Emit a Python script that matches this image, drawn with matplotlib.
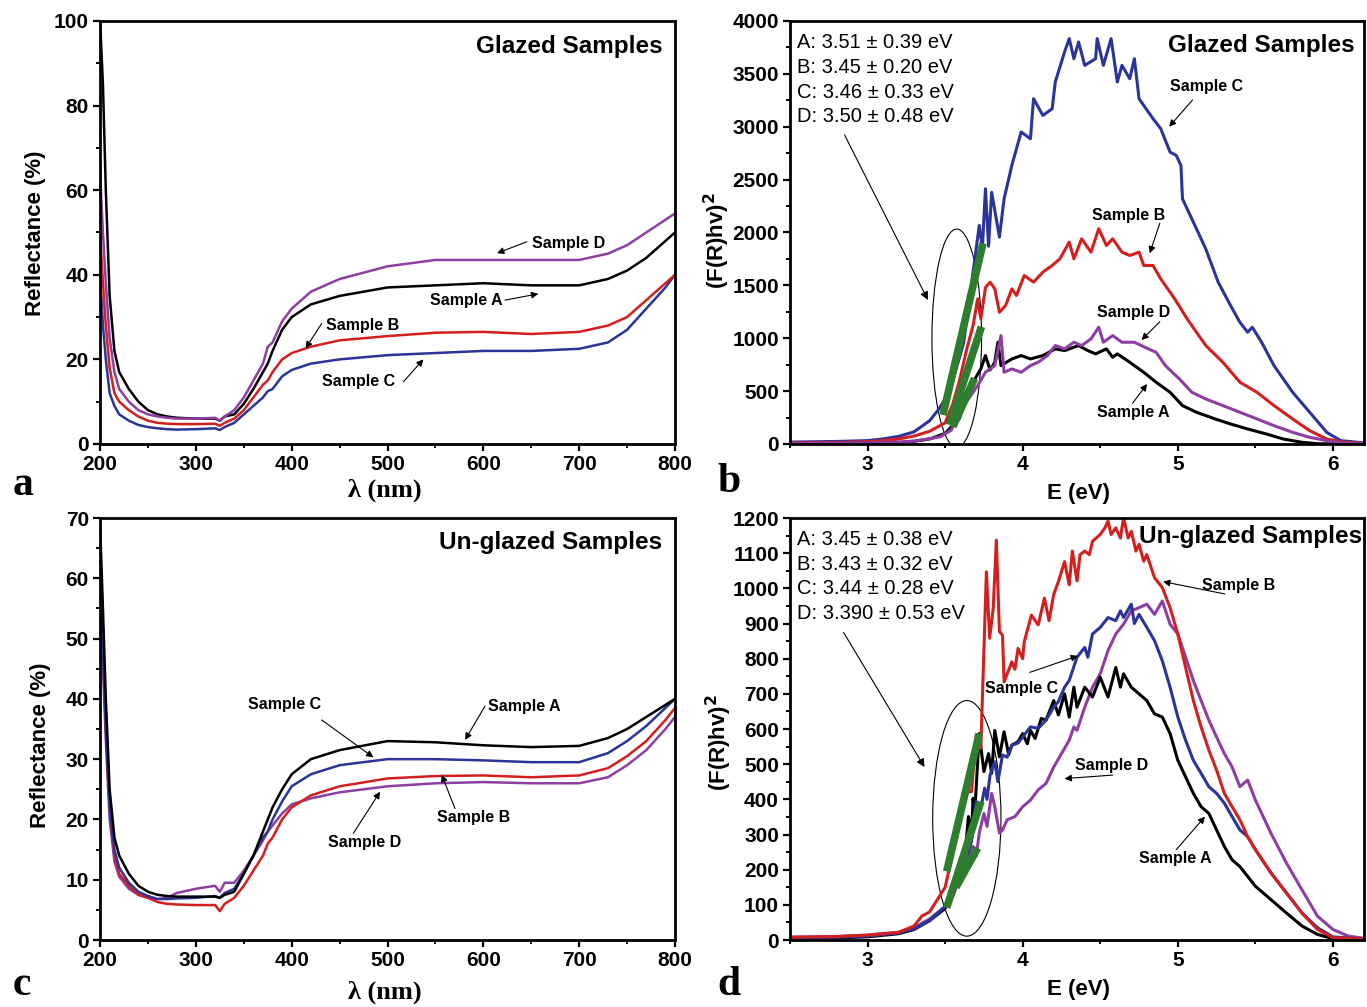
import matplotlib
matplotlib.use("Agg")
import matplotlib.pyplot as plt
from matplotlib.patches import Ellipse
from matplotlib.ticker import MultipleLocator
import numpy as np

# ---------------- data ----------------
# panel a: glazed reflectance
wl = [200, 203, 206, 210, 215, 220, 230, 240, 250, 260, 270, 280, 300, 320, 325, 330,
      340, 350, 360, 370, 375, 380, 390, 400, 420, 450, 500, 550, 600, 650, 700, 730,
      750, 770, 790, 800]
refl_glz_A = [100, 85, 60, 35, 22, 17, 13, 10, 8, 7, 6.5, 6.2, 6, 6, 5.5, 6.5,
              7, 9.5, 13, 17, 19, 22, 27, 30, 33, 35, 37, 37.5, 38, 37.5, 37.5, 39,
              41, 44, 48, 50]
refl_glz_B = [50, 38, 28, 18, 12, 10, 8, 6.5, 5.5, 5, 4.8, 4.7, 4.7, 4.8, 4.3, 5,
              6, 8, 11, 14, 15, 17, 20, 21.5, 23, 24.5, 25.5, 26.3, 26.5, 26, 26.5, 28,
              30, 34, 38, 40]
refl_glz_C = [40, 28, 20, 12, 9, 7, 5.5, 4.5, 4, 3.7, 3.5, 3.4, 3.5, 3.7, 3.3, 4,
              5, 7, 9, 11, 12.5, 13, 16, 17.5, 19, 20, 21, 21.5, 22, 22, 22.5, 24,
              27, 32, 37, 40]
refl_glz_D = [64, 50, 38, 25, 17, 13, 10, 8, 7, 6.5, 6.2, 6, 6, 6.2, 5.5, 6.5,
              8, 11, 15, 19, 23, 24, 29, 32, 36, 39, 42, 43.5, 43.5, 43.5, 43.5, 45,
              47, 50, 53, 54.5]

# panel c: un-glazed reflectance
refl_ung_A = [69, 55, 40, 25, 17, 14, 11, 9, 8, 7.5, 7.3, 7.2, 7.2, 7.2, 7, 7.5,
              8, 11, 14, 18, 20, 22, 25, 27.5, 30, 31.5, 33, 32.8, 32.3, 32, 32.2, 33.5,
              35, 37, 39, 40]
refl_ung_B = [65, 50, 36, 22, 14, 11, 9, 7.5, 7, 6.3, 6, 5.9, 5.8, 5.8, 4.8, 6,
              7, 9, 11.5, 14, 16, 17, 20, 22, 24, 25.5, 26.8, 27.2, 27.3, 27, 27.3, 28.5,
              30.5, 33, 36.5, 38.5]
refl_ung_C = [60, 48, 35, 22, 15, 12, 9.5, 8, 7.3, 6.8, 6.8, 6.9, 7, 7.3, 7, 7.8,
              8.5, 11, 14, 17, 18, 20, 23, 25.5, 27.5, 29, 30, 30, 29.8, 29.5, 29.5, 31,
              33, 35.5, 38.5, 40]
refl_ung_D = [55, 45, 33, 20, 13, 10.5, 8.5, 7.5, 7, 6.8, 7, 7.8, 8.5, 9, 8, 9.5,
              9.5, 11.5, 14, 16.5, 18, 19, 21, 22.5, 23.5, 24.5, 25.5, 26, 26.2, 26, 26, 27,
              29, 31.5, 35, 37]

# panel b: glazed Tauc plot
E_bA = [2.5, 2.8, 3.0, 3.2, 3.3, 3.4, 3.5, 3.59, 3.68, 3.73, 3.76, 3.79, 3.82, 3.84,
        3.86, 3.93, 3.99, 4.05, 4.13, 4.21, 4.27, 4.36, 4.42, 4.47, 4.54, 4.58, 4.61,
        4.69, 4.78, 4.86, 4.95, 5.03, 5.12, 5.24, 5.34, 5.45, 5.57, 5.68, 5.80, 5.91, 6.2]
tauc_bA = [3, 5, 8, 15, 25, 47, 100, 237, 584, 710, 836, 700, 773, 962,
           741, 804, 836, 804, 836, 899, 883, 931, 883, 852, 899, 820, 852,
           773, 678, 584, 489, 363, 300, 237, 189, 142, 95, 47, 16, 2, 0]
E_bB = [2.5, 2.8, 3.0, 3.1, 3.2, 3.3, 3.4, 3.5, 3.55, 3.59, 3.64, 3.68, 3.71, 3.73,
        3.76, 3.79, 3.82, 3.85, 3.89, 3.93, 3.96, 4.01, 4.07, 4.13, 4.19, 4.24, 4.30,
        4.33, 4.38, 4.44, 4.49, 4.54, 4.58, 4.64, 4.69, 4.75, 4.78, 4.84, 4.89, 4.98,
        5.06, 5.18, 5.29, 5.40, 5.51, 5.62, 5.74, 5.85, 5.96, 6.07, 6.2]
tauc_bB = [10, 14, 22, 32, 48, 75, 120, 200, 380, 584, 900, 1120, 1372, 1183,
           1480, 1530, 1467, 1246, 1309, 1467, 1404, 1593, 1530, 1625, 1688, 1751, 1909,
           1751, 1940, 1814, 2035, 1877, 1940, 1814, 1782, 1814, 1688, 1688, 1561, 1372,
           1183, 931, 773, 584, 489, 363, 237, 126, 47, 16, 5]
E_bC = [2.5, 2.8, 3.0, 3.1, 3.2, 3.3, 3.4, 3.46, 3.51, 3.56, 3.62, 3.72, 3.74, 3.76,
        3.78, 3.80, 3.85, 3.88, 3.93, 3.99, 4.05, 4.07, 4.13, 4.19, 4.21, 4.27, 4.30,
        4.33, 4.36, 4.40, 4.47, 4.48, 4.52, 4.57, 4.61, 4.64, 4.69, 4.72, 4.75, 4.84,
        4.89, 4.95, 4.99, 5.02, 5.03, 5.12, 5.18, 5.26, 5.34, 5.40, 5.45, 5.48, 5.54,
        5.62, 5.74, 5.85, 5.96, 6.05, 6.2]
tauc_bC = [18, 24, 32, 48, 72, 115, 220, 330, 450, 650, 962, 2066, 1850, 2413,
           1870, 2380, 1956, 2318, 2634, 2950, 2886, 3265, 3107, 3170, 3423, 3707, 3833,
           3643, 3801, 3580, 3643, 3833, 3580, 3833, 3423, 3580, 3454, 3643, 3265, 3076,
           2981, 2760, 2729, 2634, 2318, 2035, 1845, 1530, 1309, 1151, 1057, 1104, 962,
           741, 489, 300, 110, 32, 10]
E_bD = [2.5, 2.8, 3.0, 3.2, 3.3, 3.4, 3.47, 3.54, 3.59, 3.65, 3.71, 3.76, 3.82, 3.86,
        3.88, 3.93, 3.99, 4.05, 4.10, 4.16, 4.21, 4.27, 4.33, 4.38, 4.44, 4.49, 4.52,
        4.58, 4.64, 4.72, 4.81, 4.86, 4.92, 5.01, 5.09, 5.18, 5.29, 5.40, 5.51, 5.62,
        5.74, 5.85, 5.96, 6.07, 6.2]
tauc_bD = [6, 8, 10, 18, 28, 50, 69, 132, 300, 426, 552, 678, 741, 1025,
           678, 710, 678, 741, 773, 836, 931, 899, 962, 931, 994, 1104, 962,
           1025, 962, 962, 899, 867, 741, 615, 489, 426, 363, 300, 237, 173,
           110, 63, 32, 6, 5]

# panel d: un-glazed Tauc plot
E_dA = [2.5, 2.8, 3.0, 3.2, 3.3, 3.4, 3.5, 3.55, 3.6, 3.63, 3.65, 3.67, 3.68, 3.69,
        3.70, 3.72, 3.75, 3.78, 3.80, 3.82, 3.85, 3.88, 3.91, 3.93, 3.97, 4.0, 4.03,
        4.05, 4.08, 4.12, 4.15, 4.2, 4.23, 4.27, 4.3, 4.33, 4.35, 4.4, 4.45, 4.5,
        4.55, 4.6, 4.63, 4.65, 4.7, 4.75, 4.8, 4.85, 4.9, 4.95, 5.0, 5.05, 5.1,
        5.15, 5.2, 5.25, 5.3, 5.35, 5.4, 5.45, 5.5, 5.6, 5.7, 5.8, 5.9, 6.0, 6.2]
tauc_dA = [4, 6, 9, 18, 30, 55, 90, 130, 200, 250, 351, 300, 403, 355,
           432, 587, 479, 530, 474, 596, 521, 592, 527, 554, 564, 587, 558,
           596, 573, 630, 625, 681, 640, 700, 634, 719, 662, 719, 691, 747,
           691, 775, 719, 757, 719, 700, 681, 643, 634, 587, 511, 464, 417,
           379, 360, 313, 266, 228, 209, 181, 153, 115, 77, 40, 16, 4, 2]
E_dB = [2.5, 2.8, 3.0, 3.2, 3.3, 3.35, 3.4, 3.45, 3.5, 3.55, 3.6, 3.64, 3.67, 3.70,
        3.73, 3.766, 3.787, 3.81, 3.83, 3.85, 3.87, 3.88, 3.93, 3.95, 3.97, 4.0, 4.01,
        4.056, 4.1, 4.14, 4.17, 4.2, 4.23, 4.27, 4.3, 4.32, 4.35, 4.37, 4.4, 4.43,
        4.45, 4.5, 4.53, 4.55, 4.57, 4.6, 4.63, 4.65, 4.68, 4.7, 4.73, 4.75, 4.78,
        4.8, 4.85, 4.9, 4.95, 5.0, 5.05, 5.1, 5.15, 5.2, 5.25, 5.3, 5.35, 5.4,
        5.45, 5.5, 5.6, 5.7, 5.8, 5.9, 6.0, 6.2]
tauc_dB = [8, 10, 14, 22, 40, 68, 80, 115, 150, 250, 360, 420, 422, 583,
           545, 1047, 858, 943, 1137, 877, 867, 734, 791, 770, 829, 800, 848,
           924, 896, 972, 908, 983, 1019, 1076, 1010, 1106, 1021, 1096, 1106, 1096,
           1134, 1153, 1172, 1191, 1153, 1172, 1143, 1200, 1143, 1162, 1106, 1125, 1077,
           1096, 1030, 1002, 945, 870, 775, 681, 606, 540, 483, 417, 379, 342,
           294, 257, 191, 134, 77, 30, 7, 3]
E_dC = [2.5, 2.8, 3.0, 3.2, 3.3, 3.4, 3.5, 3.55, 3.6, 3.65, 3.67, 3.70, 3.73, 3.755,
        3.77, 3.79, 3.82, 3.84, 3.87, 3.9, 3.93, 3.97, 4.01, 4.05, 4.1, 4.15, 4.2,
        4.23, 4.27, 4.3, 4.35, 4.4, 4.42, 4.45, 4.5, 4.55, 4.6, 4.63, 4.65, 4.7,
        4.72, 4.75, 4.8, 4.85, 4.9, 4.95, 5.0, 5.05, 5.1, 5.15, 5.2, 5.25, 5.3,
        5.35, 5.4, 5.45, 5.5, 5.6, 5.7, 5.8, 5.9, 6.0, 6.2]
tauc_dC = [6, 8, 11, 20, 32, 55, 96, 134, 200, 250, 280, 394, 375, 432,
           400, 470, 507, 450, 526, 520, 554, 560, 583, 606, 602, 625, 662,
           678, 719, 738, 804, 832, 804, 870, 889, 917, 908, 936, 917, 955,
           900, 926, 889, 851, 794, 719, 634, 568, 511, 474, 436, 417, 389,
           351, 313, 294, 257, 191, 134, 77, 35, 9, 3]
E_dD = [2.5, 2.8, 3.0, 3.2, 3.3, 3.4, 3.5, 3.55, 3.6, 3.65, 3.68, 3.7, 3.72, 3.75,
        3.77, 3.8, 3.82, 3.85, 3.87, 3.9, 3.95, 4.0, 4.05, 4.1, 4.15, 4.2, 4.25,
        4.3, 4.33, 4.35, 4.4, 4.45, 4.5, 4.55, 4.6, 4.65, 4.7, 4.75, 4.8, 4.85,
        4.9, 4.95, 5.0, 5.05, 5.1, 5.15, 5.2, 5.25, 5.3, 5.35, 5.4, 5.45, 5.5,
        5.55, 5.6, 5.7, 5.8, 5.9, 6.0, 6.1, 6.2]
tauc_dD = [8, 10, 14, 22, 35, 60, 95, 125, 181, 228, 266, 238, 304, 360,
           323, 417, 379, 304, 313, 342, 351, 379, 398, 427, 445, 492, 530,
           568, 606, 596, 662, 719, 757, 823, 870, 898, 936, 945, 955, 926,
           964, 898, 870, 804, 738, 681, 625, 577, 530, 492, 436, 455, 398,
           351, 304, 219, 143, 68, 30, 11, 5]

# linear fits near the absorption edge: (E0, E1, y0, y1)
fits_b = [(3.486, 3.744, 274, 1898), (3.529, 3.734, 180, 1109), (3.55, 3.69, 164, 621)]
fits_d = [(3.51, 3.72, 195, 587), (3.51, 3.73, 92, 393), (3.57, 3.71, 150, 262)]

gaps_b = ["A: 3.51 \u00b1 0.39 eV", "B: 3.45 \u00b1 0.20 eV",
          "C: 3.46 \u00b1 0.33 eV", "D: 3.50 \u00b1 0.48 eV"]
gaps_d = ["A: 3.45 \u00b1 0.38 eV", "B: 3.43 \u00b1 0.32 eV",
          "C: 3.44 \u00b1 0.28 eV", "D: 3.390 \u00b1 0.53 eV"]

# ---------------- style ----------------
col = {'A': '#000000', 'B': '#d41f1f', 'C': '#2b3499', 'D': '#8e3ea3'}
green = '#2f7d2f'
tick_font = ['Liberation Sans Narrow', 'Liberation Sans', 'DejaVu Sans']
sans = ['Liberation Sans', 'DejaVu Sans']
serif = ['Liberation Serif', 'DejaVu Serif']

fig = plt.figure(figsize=(13.67, 10.07), dpi=100)
ax_a = fig.add_axes([0.0732, 0.5591, 0.4206, 0.4201])
ax_b = fig.add_axes([0.5779, 0.5591, 0.4199, 0.4201])
ax_c = fig.add_axes([0.0732, 0.0665, 0.4206, 0.4191])
ax_d = fig.add_axes([0.5779, 0.0665, 0.4199, 0.4191])


def style_axes(ax, xlim, ylim, xmaj, xmin, ymaj, ymin):
    ax.set_xlim(*xlim)
    ax.set_ylim(*ylim)
    ax.xaxis.set_major_locator(MultipleLocator(xmaj))
    ax.xaxis.set_minor_locator(MultipleLocator(xmin))
    ax.yaxis.set_major_locator(MultipleLocator(ymaj))
    ax.yaxis.set_minor_locator(MultipleLocator(ymin))
    for s in ax.spines.values():
        s.set_linewidth(2)
    ax.tick_params(which='major', direction='out', length=5, width=1.6, pad=3)
    ax.tick_params(which='minor', direction='out', length=3, width=1.4)
    for lab in ax.get_xticklabels() + ax.get_yticklabels():
        lab.set_family(tick_font)
        lab.set_fontweight('bold')
        lab.set_fontsize(15)


def sample_label(ax, txt, tx, ty, start, end):
    ax.text(tx, ty, txt, fontsize=11.5, fontweight='bold', family=sans,
            ha='left', va='center')
    ax.annotate('', xy=end, xytext=start,
                arrowprops=dict(arrowstyle='-|>', lw=0.8, color='k',
                                mutation_scale=10, shrinkA=0, shrinkB=0))


# ---- panel a ----
ax = ax_a
ax.plot(wl, refl_glz_C, color=col['C'], lw=1.8)
ax.plot(wl, refl_glz_B, color=col['B'], lw=1.8)
ax.plot(wl, refl_glz_A, color=col['A'], lw=1.8)
ax.plot(wl, refl_glz_D, color=col['D'], lw=1.8)
style_axes(ax, (200, 800), (0, 100), 100, 50, 20, 10)
sample_label(ax, 'Sample D', 650.8, 47.5, (645.3, 47.8), (614.3, 45.1))
sample_label(ax, 'Sample A', 544.3, 34.0, (622.6, 34.0), (657.3, 35.5))
sample_label(ax, 'Sample B', 435.8, 28.1, (431.3, 28.5), (414.5, 22.6))
sample_label(ax, 'Sample C', 431.7, 14.7, (516.5, 14.7), (537.4, 20.0))
ax.text(0.979, 0.9385, 'Glazed Samples', transform=ax.transAxes, ha='right',
        va='center', fontsize=17.5, fontweight='bold', family=sans)
ax.text(-0.113, 0.499, 'Reflectance (%)', transform=ax.transAxes, rotation=90,
        ha='center', va='center', fontsize=16, fontweight='bold', family=sans)
ax.text(0.496, -0.109, '\u03bb (nm)', transform=ax.transAxes, ha='center',
        va='center', fontsize=19, fontweight='bold', family=serif)

# ---- panel c ----
ax = ax_c
ax.plot(wl, refl_ung_D, color=col['D'], lw=1.8)
ax.plot(wl, refl_ung_B, color=col['B'], lw=1.8)
ax.plot(wl, refl_ung_C, color=col['C'], lw=1.8)
ax.plot(wl, refl_ung_A, color=col['A'], lw=1.8)
style_axes(ax, (200, 800), (0, 70), 100, 50, 10, 5)
sample_label(ax, 'Sample C', 354.4, 39.0, (431.3, 36.5), (485.2, 30.3))
sample_label(ax, 'Sample A', 604.9, 38.8, (601.7, 38.8), (580.9, 33.2))
sample_label(ax, 'Sample B', 551.7, 20.4, (570.4, 21.8), (556.5, 27.4))
sample_label(ax, 'Sample D', 437.9, 16.1, (464.3, 17.7), (492.2, 24.6))
ax.text(0.977, 0.941, 'Un-glazed Samples', transform=ax.transAxes, ha='right',
        va='center', fontsize=17.5, fontweight='bold', family=sans)
ax.text(-0.104, 0.462, 'Reflectance (%)', transform=ax.transAxes, rotation=90,
        ha='center', va='center', fontsize=16, fontweight='bold', family=sans)
ax.text(0.496, -0.123, '\u03bb (nm)', transform=ax.transAxes, ha='center',
        va='center', fontsize=19, fontweight='bold', family=serif)


def tauc_panel(ax, series, fits, gaps, ylim, ymaj, ymin, ell, arrow, title, title_xy):
    for E, v, c in series:
        ax.plot(E, v, color=c, lw=2.2)
    for e0, e1, y0, y1 in fits:
        ax.plot([e0, e1], [y0, y1], color=green, lw=5.5, solid_capstyle='butt')
    style_axes(ax, (2.5, 6.2), ylim, 1, 0.5, ymaj, ymin)
    ax.add_patch(Ellipse(ell[0], ell[1], ell[2], fill=False, lw=0.8, ec='k'))
    ax.annotate('', xy=arrow[1], xytext=arrow[0],
                arrowprops=dict(arrowstyle='-|>', lw=0.8, color='k',
                                mutation_scale=12, shrinkA=0, shrinkB=0))
    for i, g in enumerate(gaps):
        ax.text(0.012, 0.95 - i * 0.059, g, transform=ax.transAxes, ha='left',
                va='center', fontsize=14.5, family=sans)
    ax.text(title_xy[0], title_xy[1], title, transform=ax.transAxes, ha='right',
            va='center', fontsize=17.5, fontweight='bold', family=sans)


# ---- panel b ----
ax = ax_b
tauc_panel(ax, [(E_bC, tauc_bC, col['C']), (E_bB, tauc_bB, col['B']),
                (E_bA, tauc_bA, col['A']), (E_bD, tauc_bD, col['D'])],
           fits_b, gaps_b, (0, 4000), 500, 250,
           ((3.575, 1000), 0.32, 2065), ((2.852, 2922), (3.389, 1362)),
           'Glazed Samples', (0.984, 0.943))
sample_label(ax, 'Sample C', 4.948, 3376, (5.095, 3253), (4.944, 3000))
sample_label(ax, 'Sample B', 4.445, 2156, (4.884, 2087), (4.819, 1803))
sample_label(ax, 'Sample D', 4.477, 1239, (4.884, 1156), (4.766, 983))
sample_label(ax, 'Sample A', 4.477, 293, (4.708, 385), (4.802, 567))
ax.text(-0.127, 0.482, '(F(R)hv)$^\\mathbf{2}$', transform=ax.transAxes, rotation=90,
        ha='center', va='center', fontsize=16, fontweight='bold', family=sans)
ax.text(0.502, -0.116, 'E (eV)', transform=ax.transAxes, ha='center',
        va='center', fontsize=16, fontweight='bold', family=sans)

# ---- panel d ----
ax = ax_d
tauc_panel(ax, [(E_dD, tauc_dD, col['D']), (E_dA, tauc_dA, col['A']),
                (E_dC, tauc_dC, col['C']), (E_dB, tauc_dB, col['B'])],
           fits_d, gaps_d, (0, 1200), 100, 50,
           ((3.64, 346), 0.44, 670), ((2.845, 875), (3.367, 492)),
           'Un-glazed Samples', (0.997, 0.955))
sample_label(ax, 'Sample B', 5.155, 1009, (5.303, 984), (4.905, 1019))
sample_label(ax, 'Sample C', 3.755, 716, (4.045, 761), (4.356, 808))
sample_label(ax, 'Sample D', 4.34, 495, (4.58, 469), (4.27, 459))
sample_label(ax, 'Sample A', 4.75, 231, (4.99, 257), (5.175, 351))
ax.text(-0.124, 0.469, '(F(R)hv)$^\\mathbf{2}$', transform=ax.transAxes, rotation=90,
        ha='center', va='center', fontsize=16, fontweight='bold', family=sans)
ax.text(0.502, -0.118, 'E (eV)', transform=ax.transAxes, ha='center',
        va='center', fontsize=16, fontweight='bold', family=sans)

# panel letters
for letter, x, y in [('a', 0.009, 0.508), ('b', 0.525, 0.511),
                     ('c', 0.009, 0.012), ('d', 0.525, 0.012)]:
    fig.text(x, y, letter, fontsize=30, fontweight='bold', family=serif,
             ha='left', va='baseline')

fig.savefig('out.png', dpi=100)
